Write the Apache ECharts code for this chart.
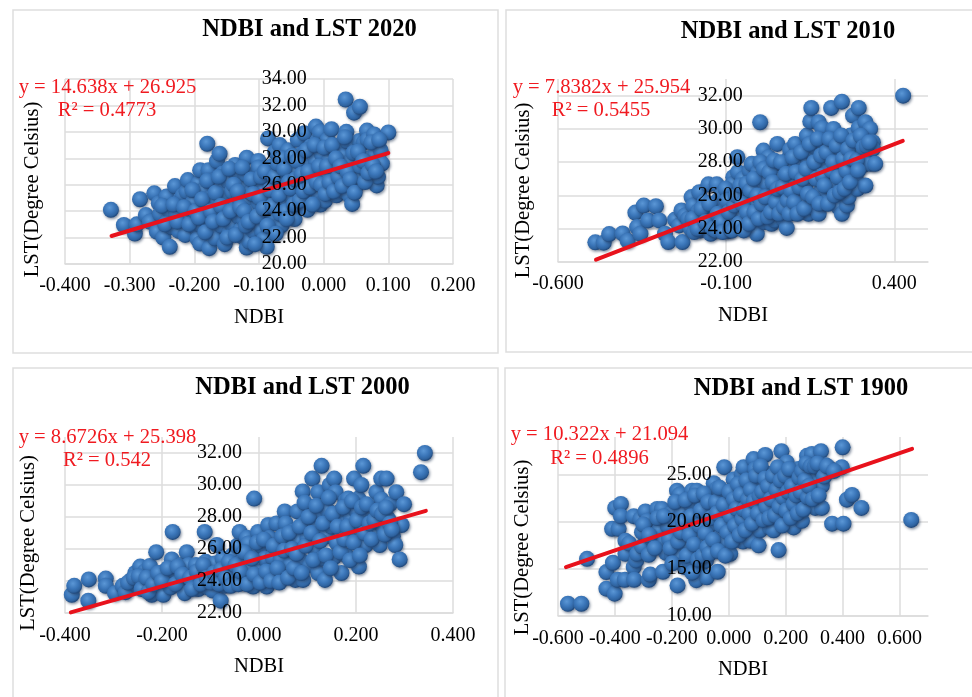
<!DOCTYPE html>
<html><head><meta charset="utf-8">
<style>html,body{margin:0;padding:0;background:#fff}#c{width:972px;height:697px}</style>
<script src="https://cdn.jsdelivr.net/npm/echarts@6/dist/echarts.min.js"></script>
</head><body><div id="c"></div>
<script>
const titles=["NDBI and LST 2020","NDBI and LST 2010","NDBI and LST 2000","NDBI and LST 1900"];
const equations=["y = 14.638x + 26.925","y = 7.8382x + 25.954","y = 8.6726x + 25.398","y = 10.322x + 21.094"];
const rSquared=["R² = 0.4773","R² = 0.5455","R² = 0.542","R² = 0.4896"];
const xName="NDBI";
const yName="LST(Degree Celsius)";

const trend2020=[[-0.328,22.12],[0.1,28.39]];
const trend2010=[[-0.487,22.14],[0.425,29.28]];
const trend2000=[[-0.388,22.04],[0.344,28.38]];
const trend1900=[[-0.572,15.19],[0.644,27.74]];

const points2020=[[-0.329,24.1],[-0.309,22.95],[-0.292,22.3],[-0.289,23.0],[-0.284,24.9],[-0.275,23.7],[-0.269,23.2],[-0.262,25.35],[-0.258,22.45],[-0.255,24.6],[-0.253,23.8],[-0.248,22.0],[-0.243,25.1],[-0.24,23.4],[-0.238,21.3],[-0.238,24.0],[-0.235,22.8],[-0.23,25.9],[-0.228,23.9],[-0.224,22.5],[-0.222,24.85],[-0.218,25.2],[-0.214,22.2],[-0.212,23.45],[-0.212,25.5],[-0.21,26.35],[-0.205,24.1],[-0.202,24.7],[-0.2,23.0],[-0.197,22.8],[-0.195,21.9],[-0.194,26.1],[-0.191,27.1],[-0.19,22.95],[-0.191,21.55],[-0.186,25.6],[-0.184,24.3],[-0.182,23.3],[-0.18,29.1],[-0.178,27.1],[-0.178,23.45],[-0.177,21.2],[-0.175,25.0],[-0.172,26.3],[-0.17,22.6],[-0.168,24.85],[-0.168,21.95],[-0.165,27.8],[-0.163,25.85],[-0.161,28.35],[-0.16,23.7],[-0.158,22.9],[-0.156,26.85],[-0.153,21.5],[-0.152,24.6],[-0.15,25.3],[-0.147,26.25],[-0.145,22.45],[-0.142,23.0],[-0.142,25.5],[-0.14,24.2],[-0.137,27.5],[-0.135,26.9],[-0.132,23.6],[-0.13,24.9],[-0.128,22.6],[-0.127,25.9],[-0.125,22.05],[-0.124,23.45],[-0.122,26.85],[-0.119,28.05],[-0.119,26.75],[-0.119,21.25],[-0.117,24.85],[-0.115,21.7],[-0.113,25.4],[-0.11,23.9],[-0.108,22.5],[-0.105,26.4],[-0.104,26.0],[-0.101,27.8],[-0.101,27.3],[-0.1,24.6],[-0.098,23.1],[-0.096,22.55],[-0.094,25.4],[-0.092,21.9],[-0.09,26.7],[-0.088,21.3],[-0.086,29.5],[-0.084,23.9],[-0.082,24.8],[-0.08,27.4],[-0.078,25.9],[-0.075,28.5],[-0.075,23.6],[-0.072,26.6],[-0.07,22.8],[-0.068,29.0],[-0.066,27.9],[-0.065,22.95],[-0.063,24.6],[-0.06,25.5],[-0.058,26.8],[-0.055,28.6],[-0.053,24.2],[-0.05,27.3],[-0.048,25.0],[-0.045,23.4],[-0.042,26.9],[-0.04,29.4],[-0.038,25.9],[-0.035,28.3],[-0.032,24.4],[-0.03,29.9],[-0.028,27.4],[-0.025,24.1],[-0.022,25.4],[-0.02,28.9],[-0.018,26.7],[-0.015,24.9],[-0.012,30.4],[-0.012,27.8],[-0.01,29.3],[-0.008,25.3],[-0.006,30.0],[-0.005,24.5],[-0.003,28.3],[0,27.0],[0.002,24.8],[0.004,26.3],[0.006,29.4],[0.008,27.8],[0.01,25.6],[0.012,30.2],[0.015,28.7],[0.018,26.9],[0.02,25.2],[0.022,27.6],[0.025,29.0],[0.028,26.2],[0.03,28.2],[0.032,25.5],[0.034,32.45],[0.035,30.0],[0.036,29.3],[0.038,26.6],[0.04,25.2],[0.042,27.8],[0.044,24.55],[0.045,26.1],[0.047,31.45],[0.05,28.9],[0.05,25.9],[0.052,27.0],[0.055,29.3],[0.055,26.4],[0.056,31.9],[0.058,28.0],[0.06,26.5],[0.062,29.2],[0.065,27.1],[0.067,30.1],[0.068,29.4],[0.07,28.0],[0.072,26.8],[0.078,29.8],[0.08,28.3],[0.082,25.95],[0.084,26.6],[0.085,27.8],[0.088,28.6],[0.09,27.6],[0.1,29.95],
[-0.25,24.4],[-0.245,23.0],[-0.232,24.5],[-0.226,23.2],[-0.216,24.3],[-0.208,23.0],[-0.203,25.6],[-0.198,24.0],[-0.193,23.5],[-0.188,24.9],[-0.183,22.4],[-0.18,26.3],[-0.174,24.0],[-0.171,23.2],[-0.167,25.4],[-0.162,26.6],[-0.159,24.4],[-0.155,23.4],[-0.149,22.0],[-0.146,27.2],[-0.144,24.0],[-0.139,26.0],[-0.136,22.2],[-0.133,25.5],[-0.129,24.3],[-0.126,27.3],[-0.123,24.0],[-0.12,22.9],[-0.116,23.2],[-0.112,26.4],[-0.109,25.3],[-0.106,21.5],[-0.103,23.6],[-0.099,25.0],[-0.097,26.6],[-0.093,24.2],[-0.091,27.0],[-0.087,22.9],[-0.083,25.6],[-0.079,24.4],[-0.076,26.6],[-0.074,22.3],[-0.071,27.6],[-0.069,25.2],[-0.067,23.8],[-0.064,28.0],[-0.061,27.2],[-0.059,24.0],[-0.057,23.4],[-0.054,26.2],[-0.051,25.7],[-0.049,28.2],[-0.046,24.5],[-0.044,26.4],[-0.041,27.8],[-0.037,24.8],[-0.034,26.8],[-0.031,25.5],[-0.027,28.6],[-0.024,27.0],[-0.021,25.8],[-0.017,24.5],[-0.014,29.0],[-0.011,26.2],[-0.007,27.4],[-0.004,26.0],[0.001,28.8],[0.003,25.3],[0.005,27.4],[0.009,26.2],[0.013,29.0],[0.016,25.5],[0.019,28.0],[0.023,26.6],[0.026,27.4],[0.029,25.9],[0.033,29.6],[0.037,27.0],[0.041,26.4],[0.046,28.4],[0.048,25.4],[0.053,28.5],[0.057,27.4],[0.061,27.8],[0.064,26.2],[0.069,26.9],[0.074,29.2],[0.076,27.5],[0.081,27.0],[0.086,29.4]];

const points2010=[[-0.489,23.18],[-0.464,23.16],[-0.448,23.68],[-0.408,23.72],[-0.393,23.28],[-0.37,24.97],[-0.365,24.1],[-0.355,23.7],[-0.345,25.39],[-0.332,24.5],[-0.309,25.35],[-0.299,24.5],[-0.282,23.7],[-0.272,23.2],[-0.252,24.55],[-0.24,24.2],[-0.233,25.1],[-0.23,23.2],[-0.222,24.8],[-0.213,24.6],[-0.205,24.0],[-0.203,25.9],[-0.198,25.4],[-0.19,24.3],[-0.183,25.05],[-0.18,26.2],[-0.176,23.9],[-0.17,24.6],[-0.165,25.6],[-0.158,24.1],[-0.153,26.67],[-0.146,23.7],[-0.143,25.2],[-0.135,24.5],[-0.128,26.67],[-0.124,25.7],[-0.12,24.0],[-0.112,26.1],[-0.105,25.1],[-0.1,24.5],[-0.095,23.85],[-0.09,26.5],[-0.085,25.6],[-0.079,27.1],[-0.079,26.7],[-0.074,24.4],[-0.067,28.3],[-0.065,27.4],[-0.06,25.8],[-0.055,24.8],[-0.05,27.0],[-0.045,26.3],[-0.042,24.0],[-0.035,25.3],[-0.03,27.5],[-0.024,27.9],[-0.021,24.5],[-0.015,26.2],[-0.012,25.4],[-0.009,23.7],[-0.005,27.4],[0.001,30.4],[0.003,24.9],[0.008,26.6],[0.011,28.7],[0.014,24.4],[0.018,27.2],[0.021,26.7],[0.026,28.3],[0.03,25.5],[0.035,24.3],[0.04,26.0],[0.045,24.5],[0.05,27.9],[0.052,29.1],[0.055,25.2],[0.06,27.0],[0.065,25.8],[0.07,24.6],[0.075,26.2],[0.08,24.05],[0.085,28.2],[0.09,28.75],[0.09,27.5],[0.095,25.4],[0.1,26.8],[0.105,29.1],[0.108,25.0],[0.11,26.2],[0.115,28.0],[0.12,27.3],[0.125,25.5],[0.13,28.5],[0.135,26.5],[0.14,29.6],[0.142,27.8],[0.145,24.9],[0.15,30.45],[0.152,28.6],[0.153,31.26],[0.155,25.3],[0.16,27.1],[0.165,28.9],[0.17,26.0],[0.175,30.4],[0.175,24.9],[0.18,26.2],[0.185,30.06],[0.188,28.0],[0.19,29.0],[0.195,25.6],[0.2,27.4],[0.205,26.6],[0.21,28.4],[0.212,31.26],[0.215,29.6],[0.219,30.0],[0.219,26.7],[0.225,27.9],[0.23,25.8],[0.234,25.3],[0.24,28.7],[0.244,31.64],[0.244,24.9],[0.25,27.3],[0.255,29.3],[0.259,25.4],[0.264,25.9],[0.265,27.9],[0.27,29.6],[0.277,30.8],[0.28,28.4],[0.284,27.1],[0.285,29.2],[0.29,26.4],[0.294,31.26],[0.294,30.06],[0.296,28.7],[0.305,27.8],[0.31,29.4],[0.314,30.4],[0.314,26.6],[0.32,28.3],[0.328,30.0],[0.33,27.9],[0.336,29.2],[0.336,28.8],[0.343,27.9],[0.426,32.0],
[-0.2,24.6],[-0.195,23.8],[-0.185,24.0],[-0.173,25.2],[-0.162,24.4],[-0.15,25.5],[-0.14,24.0],[-0.13,23.9],[-0.125,24.9],[-0.115,24.4],[-0.11,23.8],[-0.102,26.4],[-0.098,25.7],[-0.092,25.0],[-0.088,24.0],[-0.082,23.9],[-0.076,25.4],[-0.07,26.0],[-0.062,24.3],[-0.058,26.6],[-0.052,25.5],[-0.048,23.9],[-0.04,26.7],[-0.038,25.0],[-0.032,24.3],[-0.027,26.3],[-0.018,27.0],[-0.016,25.0],[-0.008,26.0],[-0.003,24.6],[0.002,28.0],[0.006,25.5],[0.012,27.6],[0.016,25.9],[0.024,24.7],[0.028,27.4],[0.033,25.0],[0.038,26.8],[0.042,28.1],[0.048,25.6],[0.053,26.4],[0.058,24.9],[0.063,28.0],[0.068,26.5],[0.072,25.3],[0.078,27.3],[0.083,25.7],[0.088,24.9],[0.093,26.3],[0.098,28.3],[0.102,25.6],[0.107,27.4],[0.112,24.9],[0.118,26.5],[0.123,28.6],[0.127,27.0],[0.132,25.2],[0.138,27.6],[0.143,26.1],[0.148,29.1],[0.158,25.9],[0.162,28.0],[0.168,27.0],[0.172,29.4],[0.177,25.5],[0.182,28.4],[0.187,27.2],[0.192,26.6],[0.198,28.6],[0.203,25.5],[0.207,29.4],[0.213,27.5],[0.218,28.0],[0.222,26.0],[0.228,29.0],[0.232,27.1],[0.238,26.2],[0.242,29.6],[0.248,28.2],[0.252,26.4],[0.257,27.5],[0.262,28.8],[0.268,26.8],[0.272,28.2],[0.278,29.3],[0.288,28.1],[0.292,27.5],[0.3,29.6],[0.308,28.9],[0.318,29.0],[0.325,29.2]];

const points2000=[[-0.386,23.14],[-0.381,23.7],[-0.352,22.77],[-0.351,24.1],[-0.316,24.15],[-0.316,23.7],[-0.297,23.24],[-0.281,23.7],[-0.275,23.3],[-0.263,24.07],[-0.255,24.5],[-0.25,23.7],[-0.245,24.9],[-0.24,24.2],[-0.235,24.6],[-0.23,23.6],[-0.225,24.94],[-0.221,23.14],[-0.215,24.2],[-0.212,25.8],[-0.205,23.6],[-0.197,23.14],[-0.195,24.6],[-0.19,24.07],[-0.182,23.6],[-0.18,25.35],[-0.178,27.07],[-0.175,24.6],[-0.165,24.0],[-0.16,25.0],[-0.153,23.24],[-0.15,24.5],[-0.149,25.8],[-0.145,25.0],[-0.135,24.0],[-0.13,25.0],[-0.125,23.5],[-0.118,24.5],[-0.112,27.07],[-0.11,25.2],[-0.105,23.6],[-0.1,24.8],[-0.095,23.4],[-0.091,25.1],[-0.087,26.25],[-0.085,24.2],[-0.079,22.77],[-0.075,25.4],[-0.07,23.7],[-0.065,24.8],[-0.06,23.9],[-0.055,25.6],[-0.05,24.4],[-0.045,26.2],[-0.04,27.07],[-0.035,25.2],[-0.032,23.9],[-0.029,24.07],[-0.025,26.7],[-0.022,26.35],[-0.018,24.8],[-0.012,23.65],[-0.01,29.15],[-0.006,25.7],[-0.002,27.07],[0.002,24.6],[0.005,26.2],[0.009,24.07],[0.012,25.4],[0.016,23.65],[0.019,27.5],[0.022,26.7],[0.028,25.5],[0.032,24.3],[0.036,27.6],[0.04,26.3],[0.045,25.4],[0.05,24.5],[0.053,28.35],[0.055,27.6],[0.058,26.1],[0.065,25.0],[0.07,27.1],[0.075,24.07],[0.079,28.35],[0.082,26.5],[0.086,25.3],[0.09,29.6],[0.091,24.07],[0.094,28.9],[0.094,27.6],[0.1,26.7],[0.105,25.0],[0.11,30.4],[0.112,28.0],[0.115,26.0],[0.12,27.2],[0.122,29.55],[0.122,24.5],[0.125,28.3],[0.129,31.2],[0.13,25.4],[0.136,24.07],[0.14,26.8],[0.142,28.4],[0.146,30.0],[0.15,27.4],[0.155,30.4],[0.155,25.5],[0.158,29.55],[0.16,26.4],[0.165,28.3],[0.17,24.5],[0.172,27.5],[0.178,29.0],[0.18,25.6],[0.184,29.15],[0.185,26.7],[0.19,27.9],[0.196,30.4],[0.198,25.3],[0.2,28.4],[0.205,29.15],[0.206,24.9],[0.21,27.3],[0.211,30.0],[0.215,31.2],[0.215,26.4],[0.22,26.25],[0.225,28.2],[0.23,27.0],[0.234,28.3],[0.24,26.9],[0.242,29.55],[0.249,26.25],[0.25,27.6],[0.252,30.4],[0.252,29.1],[0.258,27.2],[0.263,30.4],[0.266,27.9],[0.27,28.8],[0.276,26.8],[0.281,26.25],[0.283,29.55],[0.29,25.35],[0.294,27.5],[0.299,28.8],[0.334,30.8],[0.342,32.0],
[-0.27,23.9],[-0.258,24.2],[-0.248,24.3],[-0.242,23.5],[-0.232,24.2],[-0.228,23.3],[-0.218,23.8],[-0.208,24.5],[-0.2,24.0],[-0.188,24.8],[-0.172,23.8],[-0.168,24.9],[-0.158,24.4],[-0.142,24.2],[-0.138,23.5],[-0.128,24.6],[-0.12,23.8],[-0.115,25.0],[-0.108,24.2],[-0.098,23.9],[-0.092,24.5],[-0.082,23.8],[-0.078,24.7],[-0.068,24.2],[-0.062,25.2],[-0.058,23.7],[-0.048,25.0],[-0.042,23.8],[-0.038,24.6],[-0.03,25.8],[-0.024,23.8],[-0.015,25.4],[-0.01,24.4],[-0.004,26.4],[0.003,23.9],[0.01,26.6],[0.015,24.6],[0.025,24.0],[0.03,26.2],[0.038,24.8],[0.042,23.9],[0.048,26.8],[0.052,25.9],[0.06,24.2],[0.062,27.0],[0.068,26.0],[0.072,24.8],[0.078,25.7],[0.084,27.4],[0.088,24.5],[0.096,26.2],[0.102,28.0],[0.108,27.0],[0.112,25.3],[0.118,28.7],[0.126,26.5],[0.132,27.6],[0.138,25.6],[0.144,29.2],[0.148,24.8],[0.152,28.2],[0.162,27.4],[0.168,25.8],[0.174,28.6],[0.176,26.6],[0.182,27.4],[0.188,25.3],[0.192,29.0],[0.195,26.4],[0.202,27.8],[0.208,25.6],[0.212,28.6],[0.218,27.0],[0.222,28.8],[0.228,27.6],[0.232,26.6],[0.238,27.8],[0.244,28.4],[0.254,28.2],[0.26,26.9],[0.262,28.6],[0.27,27.6],[0.274,27.2]];

const points1900=[[-0.565,11.3],[-0.518,11.3],[-0.498,16.07],[-0.43,14.66],[-0.43,12.9],[-0.41,19.25],[-0.407,15.65],[-0.401,12.37],[-0.399,21.47],[-0.39,13.85],[-0.387,19.25],[-0.379,21.9],[-0.379,20.6],[-0.365,13.85],[-0.363,18.0],[-0.363,16.6],[-0.35,17.7],[-0.334,20.6],[-0.334,15.2],[-0.332,13.85],[-0.325,15.9],[-0.322,16.6],[-0.31,20.3],[-0.305,17.4],[-0.305,18.9],[-0.293,21.1],[-0.287,20.1],[-0.281,16.5],[-0.281,13.85],[-0.276,14.4],[-0.27,18.2],[-0.252,21.37],[-0.245,19.1],[-0.24,17.3],[-0.235,21.37],[-0.231,14.7],[-0.225,17.9],[-0.22,16.7],[-0.215,19.6],[-0.205,20.84],[-0.2,16.6],[-0.195,18.4],[-0.19,20.2],[-0.185,17.2],[-0.182,23.3],[-0.18,13.25],[-0.175,19.5],[-0.172,22.9],[-0.17,16.2],[-0.165,21.0],[-0.16,18.6],[-0.155,15.2],[-0.15,20.3],[-0.145,17.4],[-0.14,15.8],[-0.135,21.9],[-0.129,23.3],[-0.125,19.1],[-0.12,16.8],[-0.114,13.8],[-0.112,23.3],[-0.11,20.5],[-0.105,18.2],[-0.1,15.4],[-0.095,22.1],[-0.09,17.6],[-0.085,20.1],[-0.08,15.9],[-0.077,14.1],[-0.07,21.0],[-0.065,18.7],[-0.06,22.6],[-0.053,24.1],[-0.05,19.8],[-0.041,23.5],[-0.039,14.7],[-0.035,21.5],[-0.03,18.4],[-0.024,16.8],[-0.02,22.9],[-0.016,25.8],[-0.015,20.1],[-0.01,17.9],[0.005,16.6],[0.008,21.7],[0.012,19.4],[0.017,24.5],[0.02,23.0],[0.025,18.4],[0.03,20.6],[0.035,22.2],[0.04,19.5],[0.046,25.05],[0.05,17.9],[0.052,25.8],[0.055,23.5],[0.06,21.6],[0.065,20.3],[0.07,18.6],[0.076,18.0],[0.08,22.7],[0.085,24.0],[0.087,26.66],[0.09,20.7],[0.093,25.6],[0.1,23.4],[0.105,17.5],[0.11,19.1],[0.115,21.8],[0.12,24.2],[0.128,27.1],[0.13,22.8],[0.135,20.6],[0.14,25.1],[0.145,19.4],[0.15,23.7],[0.158,19.1],[0.16,21.6],[0.165,24.6],[0.17,22.3],[0.175,17.0],[0.18,20.8],[0.185,27.5],[0.187,25.4],[0.19,23.2],[0.195,21.7],[0.204,26.3],[0.205,19.8],[0.21,24.1],[0.215,22.1],[0.228,19.4],[0.23,23.1],[0.235,20.9],[0.24,24.3],[0.245,25.6],[0.25,21.8],[0.257,20.1],[0.26,23.6],[0.27,22.3],[0.275,27.0],[0.28,25.0],[0.285,24.2],[0.292,27.2],[0.292,23.13],[0.298,25.05],[0.304,21.47],[0.31,24.0],[0.324,27.5],[0.327,25.4],[0.327,23.84],[0.327,21.47],[0.34,26.0],[0.357,25.6],[0.363,19.8],[0.397,25.8],[0.4,27.9],[0.403,19.8],[0.415,22.35],[0.433,22.85],[0.466,21.47],[0.641,20.2],
[-0.3,19.7],[-0.28,18.6],[-0.26,17.2],[-0.25,20.4],[-0.228,20.6],[-0.21,18.2],[-0.205,17.2],[-0.198,15.6],[-0.188,22.1],[-0.178,17.9],[-0.168,18.9],[-0.162,20.0],[-0.152,22.3],[-0.148,16.4],[-0.138,18.6],[-0.132,20.6],[-0.128,14.6],[-0.122,17.6],[-0.118,22.8],[-0.108,16.0],[-0.102,19.6],[-0.098,21.2],[-0.092,16.4],[-0.088,23.0],[-0.082,18.8],[-0.075,17.3],[-0.072,22.1],[-0.068,16.6],[-0.062,20.4],[-0.055,18.1],[-0.045,22.1],[-0.042,20.9],[-0.038,16.9],[-0.032,23.6],[-0.025,19.6],[-0.018,21.8],[-0.012,16.4],[-0.005,18.9],[0.002,23.2],[0.006,20.6],[0.012,17.9],[0.018,22.4],[0.022,19.6],[0.028,21.4],[0.032,24.0],[0.038,18.6],[0.042,22.9],[0.048,20.3],[0.053,21.3],[0.058,19.1],[0.062,24.4],[0.068,22.4],[0.072,20.9],[0.078,23.4],[0.082,19.8],[0.088,22.2],[0.096,24.9],[0.102,20.9],[0.108,22.7],[0.112,25.9],[0.118,23.2],[0.122,20.2],[0.128,24.6],[0.132,21.6],[0.138,23.8],[0.142,20.4],[0.148,22.4],[0.155,24.9],[0.162,20.7],[0.168,23.4],[0.172,25.8],[0.178,21.6],[0.182,24.4],[0.188,19.6],[0.192,22.6],[0.198,24.9],[0.202,21.2],[0.208,23.2],[0.212,25.6],[0.218,20.4],[0.222,23.8],[0.228,21.9],[0.238,22.8],[0.242,20.9],[0.248,24.7],[0.252,23.2],[0.258,25.4],[0.262,21.3],[0.268,24.4],[0.272,26.2],[0.278,22.6],[0.282,23.8],[0.288,25.9],[0.295,22.4],[0.302,25.9],[0.312,26.2],[0.316,22.8],[0.335,24.8],[0.345,25.9],[0.37,25.4]];

const panels=[
 {pts:points2020,trend:trend2020,grid:[65,79,388,185],xr:[-0.4,0.2,0.1],yr:[20,34,2],titleX:304.5,titleY:12.5,frame:[13,10,485,343],eq:[[107.5,88],[107,111]],nameShift:36,nameX:43,labelMargin:12},
 {pts:points2010,trend:trend2010,grid:[558,79,370,183],xr:[-0.6,0.5,0.5],yr:[22,33,2],titleX:783,titleY:14,frame:[506,10,480,342],eq:[[601.5,88],[601,111]],nameShift:40,nameX:534,labelMargin:12},
 {pts:points2000,trend:trend2000,grid:[65,437,388,176],xr:[-0.4,0.4,0.2],yr:[22,33,2],titleX:297.5,titleY:370,frame:[13,368,485,340],eq:[[107.5,438],[107,461]],nameShift:36,nameX:39,labelMargin:13},
 {pts:points1900,trend:trend1900,grid:[558,437,370,179],xr:[-0.6,0.7,0.2],yr:[10,29,5],titleX:796,titleY:371,frame:[505,368,480,340],eq:[[599.5,435],[599.5,459]],nameShift:42,nameX:533,labelMargin:13}
];

const SERIF='"Liberation Serif","Times New Roman",serif';
const GRID='#dcdcdc';
const sphere={type:'radial',x:0.42,y:0.36,r:0.62,colorStops:[{offset:0,color:'#5b97d6'},{offset:0.55,color:'#3a75b8'},{offset:0.85,color:'#2f639f'},{offset:1,color:'#214a7e'}]};
const opt={animation:false,backgroundColor:'#fff',title:[],grid:[],xAxis:[],yAxis:[],series:[],
  graphic:{elements:[]}};

panels.forEach((p,i)=>{
  const yIdx=opt.yAxis.length;
  const zeroOffset=p.grid[2]*(-p.xr[0])/(p.xr[1]-p.xr[0]);
  opt.title.push({text:titles[i],left:p.titleX,top:p.titleY,textAlign:'center',textStyle:{fontFamily:SERIF,fontSize:24.5,fontWeight:'bold',color:'#000'}});
  opt.grid.push({left:p.grid[0],top:p.grid[1],width:p.grid[2],height:p.grid[3],outerBoundsMode:'none',containLabel:false});
  opt.xAxis.push({type:'value',gridIndex:i,min:p.xr[0],max:p.xr[1],interval:p.xr[2],
    name:xName,nameLocation:'middle',nameGap:43,nameMoveOverlap:false,nameTextStyle:{fontFamily:SERIF,fontSize:20.5,color:'#000'},
    axisLine:{show:true,lineStyle:{color:GRID,width:1.5}},axisTick:{show:false},
    axisLabel:{fontFamily:SERIF,fontSize:20,color:'#000',margin:p.labelMargin,showMaxLabel:(i===0||i===2),showMinLabel:true,hideOverlap:false,formatter:v=>v.toFixed(3)},
    splitLine:{show:true,showMaxLine:(i===0||i===2),showMinLine:true,lineStyle:{color:GRID,width:1.5}}});
  const yBase={type:'value',gridIndex:i,position:'left',min:p.yr[0],max:p.yr[1],interval:p.yr[2]};
  opt.yAxis.push(Object.assign({},yBase,{axisLine:{show:false,onZero:false},axisTick:{show:false},axisLabel:{show:false},
    splitLine:{show:true,showMaxLine:i===0,showMinLine:true,lineStyle:{color:GRID,width:1.5}}}));
  opt.yAxis.push(Object.assign({},yBase,{z:6,offset:-zeroOffset,name:yName,nameLocation:'middle',nameRotate:90,nameMoveOverlap:false,
    nameGap:zeroOffset+p.grid[0]-p.nameX,
    nameTextStyle:{fontFamily:SERIF,fontSize:20.6,color:'#000',padding:[0,p.nameShift,0,0]},
    axisLine:{show:false,onZero:false},axisTick:{show:false},splitLine:{show:false},
    axisLabel:{fontFamily:SERIF,fontSize:20,color:'#000',margin:17,showMaxLabel:i===0,formatter:v=>v.toFixed(2)}}));
  opt.series.push({type:'scatter',xAxisIndex:i,yAxisIndex:yIdx,data:p.pts,symbolSize:16,z:3,
    itemStyle:{color:sphere,opacity:1,shadowBlur:3,shadowColor:'rgba(30,50,80,0.55)',shadowOffsetX:1,shadowOffsetY:1.5},emphasis:{disabled:true}});
  opt.series.push({type:'line',xAxisIndex:i,yAxisIndex:yIdx,data:p.trend,symbol:'none',z:4,lineStyle:{color:'#e8121c',width:4,cap:'round'},silent:true});
  opt.graphic.elements.push({type:'rect',z:-10,silent:true,shape:{x:p.frame[0],y:p.frame[1],width:p.frame[2],height:p.frame[3]},style:{fill:'#fff',stroke:'#dedede',lineWidth:1.5}});
  [equations[i],rSquared[i]].forEach((t,k)=>{
    opt.graphic.elements.push({type:'text',z:20,silent:true,x:p.eq[k][0],y:p.eq[k][1],style:{text:t,fill:'#f01a20',font:'20.6px '+SERIF,align:'center',verticalAlign:'middle'}});
  });
});
const chart=echarts.init(document.getElementById('c'),null,{renderer:'canvas',width:972,height:697});
chart.setOption(opt);
</script></body></html>
